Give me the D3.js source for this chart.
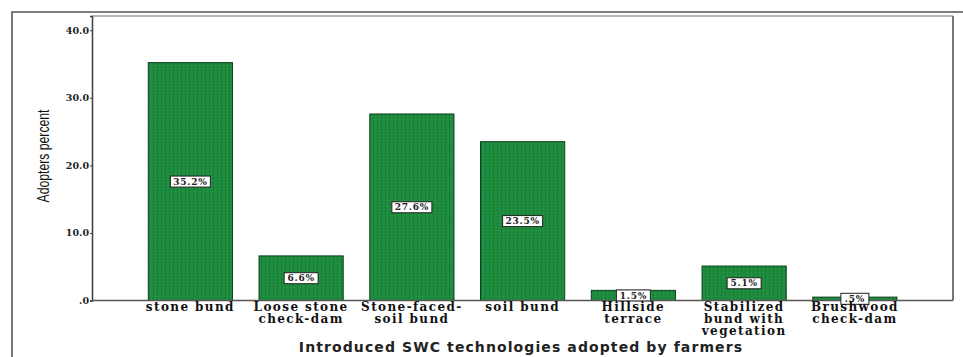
<!DOCTYPE html>
<html>
<head>
<meta charset="utf-8">
<script src="https://cdnjs.cloudflare.com/ajax/libs/d3/7.8.5/d3.min.js"></script>
<style>
body {margin: 0; background: #fff;}
svg {display: block;}
.tick text {font: bold 9.5px "DejaVu Serif", serif; fill: #222;}
.cat {font: bold 12px "DejaVu Serif", serif; fill: #111; text-anchor: middle; letter-spacing: 1.4px;}
.lbl {font: bold 9px "DejaVu Serif", serif; fill: #222; text-anchor: middle; letter-spacing: 0.8px;}
</style>
</head>
<body>
<svg width="963" height="357"></svg>
<script>
// SWC technologies and adoption percent
var categories = ["stone bund", "Loose stone check-dam", "Stone-faced-soil bund", "soil bund",
                  "Hillside terrace", "Stabilized bund with vegetation", "Brushwood check-dam"];
var catLines = [["stone bund"], ["Loose stone", "check-dam"], ["Stone-faced-", "soil bund"], ["soil bund"],
                ["Hillside", "terrace"], ["Stabilized", "bund with", "vegetation"], ["Brushwood", "check-dam"]];
var values = [35.2, 6.6, 27.6, 23.5, 1.5, 5.1, 0.5];
var valueLabels = ["35.2%", "6.6%", "27.6%", "23.5%", "1.5%", "5.1%", ".5%"];
var yTicks = [0, 10, 20, 30, 40];
var yTickLabels = [".0", "10.0", "20.0", "30.0", "40.0"];

var svg = d3.select("svg");
var plotL = 92, plotR = 953, plotT = 16, plotB = 300.5;

var x = d3.scaleBand().domain(categories).range([135, 910.25]).paddingInner(0.24).paddingOuter(0.12);
var y = d3.scaleLinear().domain([0, 42.1]).range([plotB, plotT]);

// stripe pattern for the bars
var defs = svg.append("defs");
var pat = defs.append("pattern").attr("id", "stripe").attr("patternUnits", "userSpaceOnUse")
    .attr("width", 4).attr("height", 3);
pat.append("rect").attr("width", 4).attr("height", 3).attr("fill", "#1f8f3f");
pat.append("rect").attr("x", 1).attr("width", 1).attr("height", 2).attr("fill", "#16763a");

// outer frame
svg.append("path").attr("d", "M12,357V12H963").attr("fill", "none").attr("stroke", "#555").attr("stroke-width", 1.6);

// inner plot frame
svg.append("line").attr("x1", plotL).attr("x2", plotR).attr("y1", plotT).attr("y2", plotT)
    .attr("stroke", "#a0a0a0").attr("stroke-width", 1.5);
svg.append("line").attr("x1", plotR).attr("x2", plotR).attr("y1", plotT).attr("y2", plotB)
    .attr("stroke", "#555").attr("stroke-width", 1.6);

// bars
svg.selectAll(".bar").data(values).enter().append("rect")
    .attr("class", "bar")
    .attr("x", function(d, i) { return x(categories[i]); })
    .attr("y", function(d) { return y(d); })
    .attr("width", x.bandwidth())
    .attr("height", function(d) { return y(0) - y(d); })
    .attr("fill", "url(#stripe)")
    .attr("stroke", "#0b3d1b")
    .attr("stroke-width", 1);

// y axis
var yAxis = svg.append("g").attr("transform", "translate(" + plotL + ",0)")
    .call(d3.axisLeft(y).tickValues(yTicks).tickSize(2).tickPadding(1)
        .tickFormat(function(d, i) { return yTickLabels[i]; }));
yAxis.select(".domain").attr("stroke", "#444").attr("stroke-width", 1.6);
yAxis.selectAll(".tick line").attr("stroke", "#444");

// x baseline
svg.append("line").attr("x1", plotL).attr("x2", plotR).attr("y1", plotB).attr("y2", plotB)
    .attr("stroke", "#555").attr("stroke-width", 1.6);

// value labels
var lbl = svg.selectAll(".vl").data(values).enter().append("g")
    .attr("transform", function(d, i) {
        return "translate(" + (x(categories[i]) + x.bandwidth() / 2) + "," + y(d / 2) + ")";
    });
lbl.append("rect")
    .attr("x", function(d, i) { return valueLabels[i].length > 4 ? -20 : (valueLabels[i].length > 3 ? -17 : -14); })
    .attr("y", -5.5)
    .attr("width", function(d, i) { return valueLabels[i].length > 4 ? 40 : (valueLabels[i].length > 3 ? 34 : 28); })
    .attr("height", 11)
    .attr("fill", "#fff").attr("stroke", "#222").attr("stroke-width", 1);
lbl.append("text").attr("class", "lbl").attr("y", 3.2)
    .text(function(d, i) { return valueLabels[i]; });

// category labels
svg.selectAll(".cl").data(catLines).enter().append("text")
    .attr("class", "cat")
    .attr("x", function(d, i) { return x(categories[i]) + x.bandwidth() / 2; })
    .attr("y", 311)
    .selectAll("tspan").data(function(d) { return d; }).enter().append("tspan")
    .attr("x", function() { return d3.select(this.parentNode).attr("x"); })
    .attr("dy", function(d, i) { return i === 0 ? 0 : 11.8; })
    .text(function(d) { return d; });

// axis titles
svg.append("text").attr("x", 521).attr("y", 352).attr("text-anchor", "middle")
    .style("font", "bold 14px 'DejaVu Sans', Verdana, sans-serif").style("fill", "#222")
    .style("letter-spacing", "1.1px")
    .text("Introduced SWC technologies adopted by farmers");
svg.append("text").attr("transform", "translate(49,156) rotate(-90)").attr("text-anchor", "middle")
    .attr("textLength", 93).attr("lengthAdjust", "spacingAndGlyphs")
    .style("font", "16px 'Liberation Sans', Arial, sans-serif").style("fill", "#111")
    .text("Adopters percent");
</script>
</body>
</html>
